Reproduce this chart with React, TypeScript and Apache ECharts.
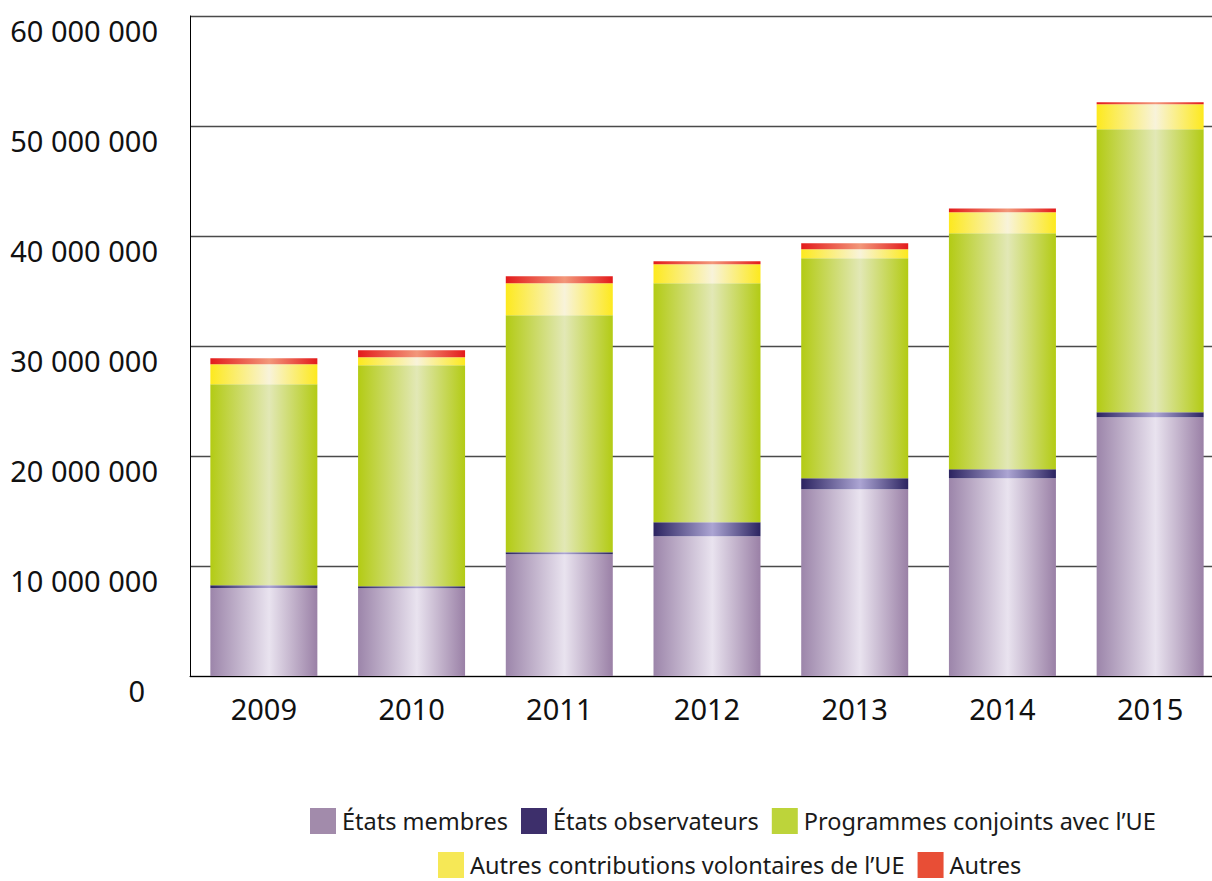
import React, { useEffect, useRef } from "react";
import * as echarts from "echarts";

const years = ["2009", "2010", "2011", "2012", "2013", "2014", "2015"];
const etatsMembres = [8000000, 7970000, 11060000, 12700000, 16970000, 17970000, 23520000];
const etatsObservateurs = [245000, 180000, 180000, 1270000, 1000000, 820000, 450000];
const programmesConjoints = [18270000, 20090000, 21550000, 21730000, 20000000, 21450000, 25730000];
const autresContribUE = [1820000, 730000, 2910000, 1730000, 820000, 1910000, 2270000];
const autres = [550000, 640000, 640000, 270000, 550000, 360000, 180000];

const names = [
  "États membres",
  "États observateurs",
  "Programmes conjoints avec l’UE",
  "Autres contributions volontaires de l’UE",
  "Autres",
];

const FONT = "Noto Sans";

function grad(edge: string, mid: string, edgeR?: string) {
  return new echarts.graphic.LinearGradient(0, 0, 1, 0, [
    { offset: 0, color: edge },
    { offset: 0.55, color: mid },
    { offset: 1, color: edgeR || edge },
  ]);
}

export default function App() {
  const ref = useRef<HTMLDivElement>(null);
  useEffect(() => {
    if (!ref.current) return;
    const chart = echarts.init(ref.current, undefined, { renderer: "svg" });
    const fills = [
      grad("#9c85aa", "#e9e3ef", "#9a80a6"),
      grad("#2b2360", "#aca5d3"),
      grad("#b3cb14", "#e2e8b6"),
      grad("#fde91e", "#f8f3da"),
      grad("#e31b1b", "#f2977a"),
    ];
    const legendColors = ["#a28bab", "#3d2f6b", "#bdd43a", "#f6e856", "#e84e36"];
    const datas = [etatsMembres, etatsObservateurs, programmesConjoints, autresContribUE, autres];
    const legendCommon = {
      icon: "rect",
      itemWidth: 26,
      itemHeight: 26,
      itemGap: 13,
      padding: 0,
      selectedMode: false,
      orient: "horizontal",
      textStyle: { fontSize: 23.5, lineHeight: 26, color: "#1a1a1a", fontFamily: FONT, padding: [0, 0, 0, 1] },
    };
    chart.setOption({
      animation: false,
      backgroundColor: "#ffffff",
      grid: { left: 190, top: 16, right: 0, bottom: 205, containLabel: false },
      legend: [
        {
          ...legendCommon,
          left: 310,
          top: 808,
          data: names.slice(0, 3).map((n, i) => ({ name: n, itemStyle: { color: legendColors[i] } })),
        },
        {
          ...legendCommon,
          left: 438,
          top: 852,
          data: names.slice(3).map((n, i) => ({ name: n, itemStyle: { color: legendColors[i + 3] } })),
        },
      ],
      xAxis: {
        type: "category",
        data: years,
        axisLine: { show: true, lineStyle: { color: "#000", width: 1 } },
        axisTick: { show: false },
        axisLabel: {
          fontSize: 29,
          fontFamily: FONT,
          color: "#111",
          margin: 18,
          lineHeight: 29,
        },
      },
      yAxis: {
        type: "value",
        min: 0,
        max: 60000000,
        interval: 10000000,
        axisLine: { show: true, lineStyle: { color: "#000", width: 1 } },
        axisTick: { show: false },
        splitLine: { show: true, lineStyle: { color: "#4a4a4a", width: 1.3 } },
        axisLabel: {
          fontSize: 29,
          fontFamily: FONT,
          color: "#111",
          margin: 32,
          lineHeight: 29,
          verticalAlign: "top",
          formatter: (v: number) =>
            v === 0 ? "{z|0}" : String(v).replace(/\B(?=(\d{3})+(?!\d))/g, " "),
          rich: {
            z: { fontSize: 29, fontFamily: FONT, color: "#111", padding: [0, 13, 0, 0], lineHeight: 29 },
          },
        },
      },
      series: names.map((n, i) => ({
        name: n,
        type: "bar",
        stack: "total",
        barWidth: 107,
        data: datas[i],
        itemStyle: { color: fills[i], borderWidth: 0 },
        emphasis: { disabled: true },
      })),
    });
    return () => chart.dispose();
  }, []);
  return (
    <div
      style={{ position: "absolute", left: 0, top: 0, width: 1212, height: 881, overflow: "hidden", background: "#fff" }}
    >
      <div ref={ref} style={{ position: "absolute", left: 0, top: 0, width: 1224, height: 881 }} />
    </div>
  );
}
